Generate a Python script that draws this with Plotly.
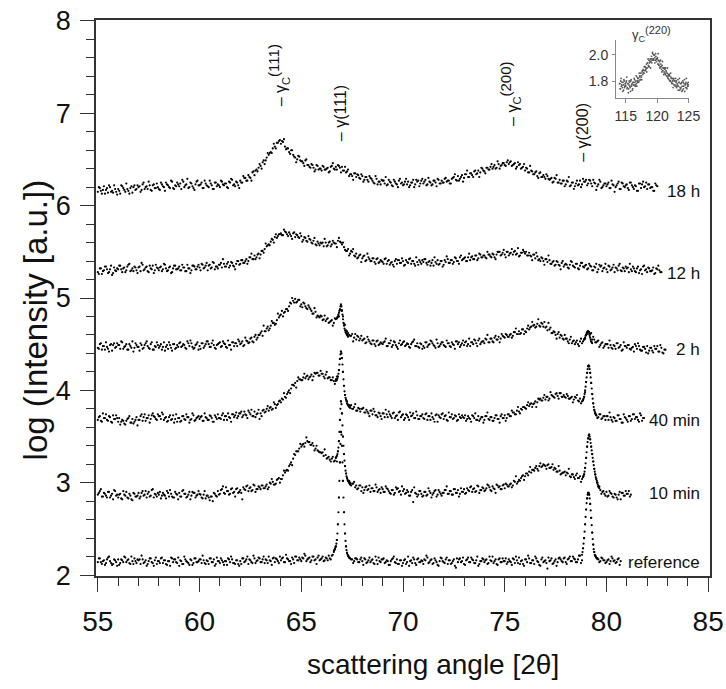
import plotly.graph_objects as go

# ---------------- data: log intensity every 0.1 deg (scan "a" from 55.00, scan "b" from 55.05) ----------------
STEP = 0.1
FINE = 0.025
START_A = 55.0
START_B = 55.05

h18_a = [
    6.15, 6.19, 6.13, 6.21, 6.17, 6.14, 6.20, 6.16, 6.22, 6.15,
    6.18, 6.13, 6.21, 6.17, 6.24, 6.16, 6.19, 6.14, 6.22, 6.18,
    6.20, 6.15, 6.23, 6.18, 6.21, 6.26, 6.17, 6.22, 6.19, 6.24,
    6.18, 6.25, 6.21, 6.16, 6.23, 6.20, 6.27, 6.19, 6.22, 6.25,
    6.21, 6.18, 6.26, 6.22, 6.29, 6.20, 6.24, 6.19, 6.23, 6.27,
    6.22, 6.25, 6.19, 6.24, 6.21, 6.27, 6.22, 6.18, 6.25, 6.23,
    6.20, 6.26, 6.22, 6.24, 6.19, 6.25, 6.28, 6.23, 6.26, 6.22,
    6.27, 6.25, 6.30, 6.27, 6.33, 6.30, 6.36, 6.33, 6.39, 6.41,
    6.43, 6.47, 6.45, 6.52, 6.55, 6.58, 6.62, 6.64, 6.68, 6.70,
    6.67, 6.69, 6.64, 6.62, 6.58, 6.60, 6.55, 6.52, 6.50, 6.53,
    6.48, 6.46, 6.49, 6.44, 6.42, 6.45, 6.41, 6.39, 6.43, 6.40,
    6.38, 6.42, 6.39, 6.41, 6.37, 6.43, 6.40, 6.42, 6.44, 6.41,
    6.42, 6.38, 6.36, 6.39, 6.34, 6.32, 6.35, 6.31, 6.33, 6.29,
    6.32, 6.28, 6.31, 6.26, 6.30, 6.27, 6.24, 6.29, 6.26, 6.23,
    6.27, 6.24, 6.22, 6.28, 6.25, 6.21, 6.26, 6.23, 6.27, 6.24,
    6.22, 6.26, 6.23, 6.20, 6.25, 6.28, 6.23, 6.26, 6.21, 6.27,
    6.24, 6.28, 6.23, 6.26, 6.22, 6.27, 6.25, 6.29, 6.24, 6.27,
    6.25, 6.30, 6.27, 6.24, 6.29, 6.31, 6.28, 6.32, 6.29, 6.33,
    6.30, 6.34, 6.31, 6.35, 6.33, 6.37, 6.34, 6.38, 6.36, 6.40,
    6.37, 6.41, 6.39, 6.42, 6.40, 6.44, 6.41, 6.45, 6.43, 6.46,
    6.44, 6.47, 6.45, 6.48, 6.44, 6.46, 6.42, 6.44, 6.40, 6.42,
    6.38, 6.40, 6.36, 6.38, 6.34, 6.36, 6.32, 6.35, 6.31, 6.33,
    6.29, 6.32, 6.28, 6.30, 6.26, 6.29, 6.25, 6.28, 6.24, 6.27,
    6.23, 6.26, 6.21, 6.25, 6.18, 6.24, 6.22, 6.27, 6.23, 6.26,
    6.28, 6.24, 6.27, 6.21, 6.25, 6.17, 6.23, 6.26, 6.20, 6.24,
    6.21, 6.25, 6.19, 6.23, 6.15, 6.22, 6.26, 6.18, 6.24, 6.20,
    6.23, 6.17, 6.25, 6.20, 6.22, 6.16, 6.24, 6.19, 6.26, 6.21,
    6.18, 6.23, 6.20, 6.16, 6.24, 6.21,
]
h18_b = [
    6.20, 6.16, 6.17, 6.13, 6.19, 6.22, 6.15, 6.14, 6.18, 6.12,
    6.16, 6.22, 6.19, 6.15, 6.18, 6.13, 6.21, 6.20, 6.17, 6.22,
    6.21, 6.17, 6.25, 6.20, 6.18, 6.22, 6.16, 6.23, 6.19, 6.20,
    6.17, 6.23, 6.20, 6.25, 6.22, 6.19, 6.26, 6.18, 6.21, 6.23,
    6.24, 6.28, 6.20, 6.23, 6.19, 6.25, 6.21, 6.17, 6.26, 6.22,
    6.23, 6.19, 6.27, 6.22, 6.20, 6.24, 6.18, 6.25, 6.21, 6.22,
    6.27, 6.23, 6.24, 6.20, 6.26, 6.29, 6.22, 6.21, 6.25, 6.19,
    6.25, 6.32, 6.30, 6.27, 6.31, 6.27, 6.37, 6.38, 6.37, 6.45,
    6.40, 6.49, 6.49, 6.57, 6.57, 6.57, 6.67, 6.62, 6.68, 6.71,
    6.70, 6.72, 6.61, 6.62, 6.56, 6.60, 6.53, 6.47, 6.54, 6.49,
    6.48, 6.43, 6.50, 6.44, 6.41, 6.44, 6.37, 6.44, 6.39, 6.40,
    6.43, 6.39, 6.40, 6.36, 6.42, 6.46, 6.39, 6.39, 6.43, 6.36,
    6.38, 6.42, 6.37, 6.32, 6.34, 6.28, 6.35, 6.34, 6.30, 6.34,
    6.26, 6.31, 6.28, 6.32, 6.29, 6.25, 6.32, 6.23, 6.26, 6.28,
    6.27, 6.31, 6.23, 6.26, 6.22, 6.28, 6.24, 6.20, 6.29, 6.25,
    6.23, 6.29, 6.26, 6.22, 6.25, 6.20, 6.28, 6.27, 6.24, 6.29,
    6.26, 6.22, 6.30, 6.25, 6.23, 6.27, 6.21, 6.28, 6.24, 6.25,
    6.29, 6.26, 6.27, 6.24, 6.30, 6.34, 6.27, 6.27, 6.31, 6.26,
    6.34, 6.38, 6.31, 6.35, 6.31, 6.38, 6.35, 6.31, 6.41, 6.38,
    6.35, 6.41, 6.39, 6.45, 6.42, 6.40, 6.48, 6.40, 6.44, 6.46,
    6.43, 6.49, 6.47, 6.43, 6.45, 6.40, 6.47, 6.45, 6.41, 6.45,
    6.41, 6.36, 6.43, 6.37, 6.34, 6.37, 6.30, 6.36, 6.31, 6.31,
    6.34, 6.29, 6.29, 6.25, 6.30, 6.33, 6.25, 6.24, 6.27, 6.21,
    6.27, 6.31, 6.22, 6.25, 6.21, 6.27, 6.23, 6.20, 6.29, 6.26,
    6.22, 6.28, 6.24, 6.28, 6.24, 6.21, 6.28, 6.19, 6.22, 6.24,
    6.23, 6.19, 6.27, 6.22, 6.20, 6.24, 6.18, 6.25, 6.21, 6.22,
    6.19, 6.25, 6.22, 6.18, 6.21, 6.16, 6.24, 6.23, 6.20, 6.25,
    6.23, 6.19, 6.20, 6.16, 6.22,
]

h12_a = [
    5.28, 5.32, 5.26, 5.30, 5.34, 5.27, 5.31, 5.25, 5.33, 5.29,
    5.31, 5.35, 5.28, 5.33, 5.30, 5.36, 5.29, 5.32, 5.34, 5.30,
    5.33, 5.29, 5.36, 5.31, 5.34, 5.28, 5.32, 5.35, 5.30, 5.33,
    5.30, 5.34, 5.31, 5.36, 5.29, 5.33, 5.27, 5.32, 5.35, 5.31,
    5.34, 5.30, 5.33, 5.29, 5.36, 5.32, 5.30, 5.35, 5.31, 5.34,
    5.33, 5.37, 5.32, 5.35, 5.30, 5.36, 5.33, 5.38, 5.34, 5.32,
    5.36, 5.33, 5.37, 5.34, 5.39, 5.35, 5.38, 5.34, 5.37, 5.40,
    5.37, 5.41, 5.38, 5.42, 5.40, 5.44, 5.42, 5.46, 5.44, 5.48,
    5.47, 5.51, 5.53, 5.56, 5.58, 5.61, 5.63, 5.66, 5.65, 5.69,
    5.70, 5.68, 5.72, 5.69, 5.71, 5.67, 5.70, 5.66, 5.68, 5.65,
    5.67, 5.63, 5.65, 5.61, 5.64, 5.60, 5.62, 5.58, 5.61, 5.57,
    5.59, 5.56, 5.60, 5.57, 5.61, 5.58, 5.60, 5.59, 5.62, 5.61,
    5.58, 5.55, 5.51, 5.53, 5.48, 5.50, 5.46, 5.48, 5.44, 5.47,
    5.43, 5.46, 5.41, 5.44, 5.40, 5.43, 5.39, 5.42, 5.38, 5.41,
    5.39, 5.42, 5.37, 5.41, 5.38, 5.36, 5.40, 5.37, 5.41, 5.38,
    5.40, 5.36, 5.39, 5.42, 5.37, 5.40, 5.35, 5.39, 5.41, 5.37,
    5.39, 5.42, 5.36, 5.40, 5.38, 5.35, 5.39, 5.41, 5.37, 5.40,
    5.36, 5.39, 5.42, 5.38, 5.41, 5.39, 5.43, 5.40, 5.44, 5.41,
    5.43, 5.40, 5.44, 5.41, 5.45, 5.42, 5.46, 5.43, 5.47, 5.44,
    5.46, 5.43, 5.47, 5.45, 5.48, 5.44, 5.47, 5.50, 5.46, 5.49,
    5.47, 5.50, 5.46, 5.49, 5.47, 5.51, 5.48, 5.45, 5.49, 5.52,
    5.48, 5.46, 5.49, 5.45, 5.47, 5.43, 5.45, 5.42, 5.44, 5.40,
    5.42, 5.39, 5.41, 5.37, 5.40, 5.36, 5.39, 5.35, 5.38, 5.34,
    5.37, 5.33, 5.36, 5.39, 5.34, 5.37, 5.32, 5.35, 5.38, 5.33,
    5.36, 5.32, 5.35, 5.30, 5.34, 5.37, 5.31, 5.34, 5.29, 5.33,
    5.31, 5.35, 5.30, 5.33, 5.28, 5.32, 5.35, 5.30, 5.33, 5.29,
    5.32, 5.28, 5.31, 5.34, 5.29, 5.32, 5.27, 5.31, 5.34, 5.30,
    5.28, 5.32, 5.29, 5.33, 5.27, 5.31, 5.30, 5.28,
]
h12_b = [
    5.26, 5.32, 5.29, 5.34, 5.31, 5.28, 5.35, 5.27, 5.30, 5.32,
    5.35, 5.31, 5.32, 5.28, 5.34, 5.37, 5.30, 5.29, 5.33, 5.27,
    5.34, 5.38, 5.30, 5.33, 5.29, 5.35, 5.31, 5.27, 5.36, 5.32,
    5.33, 5.29, 5.37, 5.32, 5.30, 5.34, 5.28, 5.35, 5.31, 5.32,
    5.30, 5.36, 5.33, 5.29, 5.32, 5.27, 5.35, 5.34, 5.31, 5.36,
    5.30, 5.36, 5.33, 5.38, 5.35, 5.32, 5.39, 5.31, 5.34, 5.36,
    5.38, 5.42, 5.34, 5.37, 5.33, 5.39, 5.35, 5.31, 5.40, 5.36,
    5.41, 5.38, 5.40, 5.37, 5.44, 5.48, 5.42, 5.42, 5.47, 5.43,
    5.51, 5.49, 5.59, 5.57, 5.57, 5.64, 5.60, 5.69, 5.67, 5.69,
    5.68, 5.74, 5.71, 5.67, 5.69, 5.64, 5.71, 5.69, 5.66, 5.70,
    5.61, 5.66, 5.62, 5.67, 5.63, 5.59, 5.65, 5.57, 5.59, 5.60,
    5.60, 5.64, 5.56, 5.60, 5.56, 5.62, 5.59, 5.55, 5.65, 5.60,
    5.60, 5.52, 5.51, 5.46, 5.51, 5.53, 5.45, 5.43, 5.46, 5.39,
    5.45, 5.40, 5.48, 5.42, 5.40, 5.43, 5.37, 5.43, 5.39, 5.40,
    5.37, 5.43, 5.40, 5.36, 5.39, 5.34, 5.42, 5.41, 5.38, 5.43,
    5.35, 5.41, 5.38, 5.43, 5.40, 5.37, 5.44, 5.36, 5.39, 5.41,
    5.42, 5.38, 5.39, 5.35, 5.41, 5.44, 5.37, 5.36, 5.40, 5.34,
    5.41, 5.45, 5.38, 5.41, 5.37, 5.44, 5.40, 5.37, 5.46, 5.42,
    5.44, 5.40, 5.48, 5.44, 5.42, 5.46, 5.41, 5.48, 5.44, 5.46,
    5.44, 5.50, 5.47, 5.44, 5.47, 5.42, 5.50, 5.50, 5.47, 5.52,
    5.44, 5.50, 5.48, 5.53, 5.50, 5.47, 5.54, 5.46, 5.49, 5.50,
    5.50, 5.46, 5.46, 5.41, 5.47, 5.49, 5.41, 5.40, 5.43, 5.36,
    5.42, 5.46, 5.37, 5.39, 5.35, 5.40, 5.36, 5.31, 5.40, 5.36,
    5.36, 5.32, 5.40, 5.35, 5.33, 5.37, 5.31, 5.38, 5.34, 5.35,
    5.31, 5.37, 5.34, 5.30, 5.33, 5.28, 5.36, 5.35, 5.32, 5.37,
    5.28, 5.34, 5.31, 5.36, 5.33, 5.30, 5.37, 5.29, 5.32, 5.34,
    5.33, 5.37, 5.29, 5.32, 5.28, 5.34, 5.30, 5.26, 5.35, 5.31,
    5.33, 5.29, 5.30, 5.26, 5.32, 5.35, 5.28,
]

h2_a = [
    4.46, 4.50, 4.44, 4.48, 4.52, 4.45, 4.49, 4.43, 4.51, 4.47,
    4.49, 4.45, 4.52, 4.47, 4.50, 4.44, 4.48, 4.53, 4.46, 4.49,
    4.47, 4.51, 4.45, 4.49, 4.53, 4.46, 4.50, 4.44, 4.48, 4.52,
    4.46, 4.50, 4.47, 4.43, 4.49, 4.52, 4.46, 4.50, 4.45, 4.49,
    4.51, 4.47, 4.50, 4.46, 4.53, 4.48, 4.51, 4.45, 4.49, 4.52,
    4.48, 4.51, 4.46, 4.50, 4.53, 4.47, 4.51, 4.49, 4.45, 4.50,
    4.52, 4.48, 4.51, 4.47, 4.54, 4.49, 4.52, 4.48, 4.51, 4.55,
    4.50, 4.53, 4.49, 4.54, 4.51, 4.56, 4.53, 4.58, 4.55, 4.60,
    4.62, 4.59, 4.64, 4.67, 4.65, 4.70, 4.73, 4.71, 4.76, 4.79,
    4.82, 4.80, 4.85, 4.88, 4.91, 4.94, 4.97, 4.99, 4.96, 4.98,
    4.93, 4.95, 4.91, 4.88, 4.90, 4.86, 4.83, 4.85, 4.81, 4.79,
    4.80, 4.77, 4.75, 4.78, 4.74, 4.76, 4.73, 4.77, 4.80, 4.87,
    4.86, 4.72, 4.65, 4.62, 4.59, 4.61, 4.57, 4.55, 4.58, 4.56,
    4.54, 4.56, 4.52, 4.55, 4.51, 4.54, 4.50, 4.53, 4.49, 4.52,
    4.50, 4.53, 4.48, 4.51, 4.54, 4.49, 4.52, 4.47, 4.51, 4.49,
    4.52, 4.48, 4.51, 4.47, 4.50, 4.53, 4.48, 4.51, 4.46, 4.50,
    4.48, 4.52, 4.47, 4.50, 4.53, 4.49, 4.46, 4.51, 4.48, 4.52,
    4.49, 4.47, 4.51, 4.48, 4.52, 4.49, 4.53, 4.50, 4.47, 4.51,
    4.49, 4.53, 4.50, 4.48, 4.52, 4.55, 4.51, 4.54, 4.50, 4.53,
    4.51, 4.55, 4.52, 4.56, 4.53, 4.57, 4.55, 4.58, 4.56, 4.59,
    4.57, 4.60, 4.58, 4.61, 4.59, 4.63, 4.61, 4.64, 4.62, 4.66,
    4.64, 4.67, 4.66, 4.69, 4.70, 4.68, 4.72, 4.70, 4.73, 4.69,
    4.68, 4.65, 4.66, 4.62, 4.64, 4.60, 4.61, 4.57, 4.59, 4.55,
    4.56, 4.53, 4.55, 4.51, 4.54, 4.52, 4.50, 4.53, 4.51, 4.55,
    4.60, 4.64, 4.61, 4.55, 4.55, 4.52, 4.54, 4.49, 4.52, 4.48,
    4.50, 4.46, 4.49, 4.45, 4.48, 4.51, 4.46, 4.49, 4.44, 4.48,
    4.46, 4.49, 4.44, 4.47, 4.50, 4.45, 4.48, 4.43, 4.47, 4.45,
    4.48, 4.43, 4.46, 4.41, 4.45, 4.48, 4.42, 4.46, 4.40, 4.44,
]
h2_b = [
    4.45, 4.51, 4.48, 4.44, 4.47, 4.42, 4.50, 4.49, 4.46, 4.51,
    4.49, 4.53, 4.45, 4.48, 4.44, 4.50, 4.46, 4.42, 4.51, 4.47,
    4.43, 4.49, 4.46, 4.51, 4.48, 4.45, 4.52, 4.44, 4.47, 4.49,
    4.48, 4.44, 4.52, 4.47, 4.45, 4.49, 4.43, 4.50, 4.46, 4.47,
    4.52, 4.48, 4.49, 4.45, 4.51, 4.54, 4.47, 4.46, 4.50, 4.44,
    4.45, 4.51, 4.48, 4.53, 4.50, 4.47, 4.54, 4.46, 4.49, 4.51,
    4.47, 4.53, 4.50, 4.46, 4.49, 4.44, 4.52, 4.51, 4.48, 4.53,
    4.51, 4.48, 4.57, 4.53, 4.52, 4.57, 4.52, 4.60, 4.57, 4.60,
    4.64, 4.70, 4.64, 4.69, 4.67, 4.75, 4.73, 4.72, 4.83, 4.81,
    4.86, 4.84, 4.88, 4.86, 4.95, 5.00, 4.95, 4.95, 4.98, 4.91,
    4.90, 4.94, 4.89, 4.92, 4.88, 4.83, 4.89, 4.79, 4.80, 4.81,
    4.76, 4.81, 4.77, 4.73, 4.75, 4.70, 4.78, 4.78, 4.80, 4.91,
    4.80, 4.71, 4.64, 4.60, 4.59, 4.53, 4.61, 4.59, 4.54, 4.59,
    4.55, 4.51, 4.58, 4.53, 4.50, 4.54, 4.48, 4.54, 4.50, 4.51,
    4.52, 4.56, 4.48, 4.51, 4.47, 4.53, 4.49, 4.45, 4.54, 4.50,
    4.53, 4.49, 4.50, 4.46, 4.52, 4.55, 4.48, 4.47, 4.51, 4.45,
    4.46, 4.52, 4.49, 4.54, 4.51, 4.48, 4.55, 4.47, 4.50, 4.52,
    4.48, 4.54, 4.51, 4.47, 4.50, 4.45, 4.53, 4.52, 4.49, 4.54,
    4.52, 4.48, 4.56, 4.52, 4.50, 4.54, 4.48, 4.56, 4.52, 4.53,
    4.56, 4.60, 4.52, 4.56, 4.52, 4.59, 4.55, 4.52, 4.61, 4.58,
    4.61, 4.58, 4.60, 4.57, 4.63, 4.67, 4.61, 4.61, 4.66, 4.61,
    4.63, 4.70, 4.68, 4.74, 4.71, 4.69, 4.77, 4.69, 4.72, 4.74,
    4.69, 4.73, 4.68, 4.62, 4.63, 4.56, 4.63, 4.60, 4.56, 4.60,
    4.56, 4.51, 4.58, 4.53, 4.50, 4.54, 4.48, 4.56, 4.53, 4.56,
    4.61, 4.63, 4.62, 4.58, 4.52, 4.53, 4.47, 4.51, 4.46, 4.50,
    4.50, 4.54, 4.46, 4.49, 4.45, 4.51, 4.47, 4.43, 4.52, 4.48,
    4.49, 4.45, 4.46, 4.42, 4.48, 4.51, 4.44, 4.43, 4.47, 4.41,
    4.40, 4.46, 4.43, 4.48, 4.45, 4.42, 4.49, 4.41, 4.44,
]

m40_a = [
    3.68, 3.72, 3.66, 3.70, 3.74, 3.67, 3.71, 3.65, 3.69, 3.73,
    3.66, 3.63, 3.68, 3.64, 3.67, 3.70, 3.65, 3.69, 3.66, 3.71,
    3.68, 3.72, 3.67, 3.74, 3.70, 3.73, 3.69, 3.75, 3.71, 3.68,
    3.72, 3.69, 3.74, 3.70, 3.66, 3.71, 3.68, 3.73, 3.69, 3.66,
    3.70, 3.67, 3.72, 3.68, 3.71, 3.65, 3.69, 3.73, 3.68, 3.71,
    3.69, 3.72, 3.67, 3.71, 3.68, 3.73, 3.70, 3.66, 3.71, 3.74,
    3.70, 3.73, 3.68, 3.72, 3.75, 3.70, 3.74, 3.71, 3.76, 3.72,
    3.75, 3.71, 3.77, 3.73, 3.78, 3.74, 3.72, 3.77, 3.74, 3.79,
    3.75, 3.78, 3.76, 3.80, 3.78, 3.82, 3.80, 3.85, 3.84, 3.88,
    3.87, 3.90, 3.93, 3.96, 4.00, 4.02, 4.06, 4.08, 4.10, 4.12,
    4.11, 4.14, 4.13, 4.16, 4.14, 4.17, 4.15, 4.18, 4.19, 4.16,
    4.18, 4.15, 4.17, 4.13, 4.14, 4.11, 4.10, 4.12, 4.15, 4.34,
    4.35, 4.05, 3.90, 3.84, 3.82, 3.80, 3.82, 3.78, 3.81, 3.77,
    3.80, 3.76, 3.79, 3.75, 3.78, 3.74, 3.77, 3.73, 3.76, 3.72,
    3.75, 3.71, 3.74, 3.77, 3.72, 3.75, 3.70, 3.73, 3.76, 3.71,
    3.74, 3.70, 3.73, 3.68, 3.72, 3.75, 3.70, 3.73, 3.69, 3.72,
    3.70, 3.74, 3.68, 3.72, 3.75, 3.69, 3.73, 3.66, 3.71, 3.74,
    3.69, 3.73, 3.67, 3.71, 3.74, 3.70, 3.72, 3.68, 3.71, 3.73,
    3.70, 3.67, 3.72, 3.69, 3.73, 3.70, 3.68, 3.72, 3.69, 3.71,
    3.68, 3.72, 3.69, 3.71, 3.67, 3.70, 3.73, 3.69, 3.72, 3.70,
    3.73, 3.70, 3.74, 3.72, 3.76, 3.74, 3.78, 3.77, 3.80, 3.82,
    3.81, 3.84, 3.83, 3.86, 3.85, 3.88, 3.87, 3.90, 3.89, 3.92,
    3.90, 3.93, 3.91, 3.95, 3.93, 3.96, 3.94, 3.97, 3.93, 3.95,
    3.92, 3.94, 3.91, 3.93, 3.90, 3.92, 3.89, 3.91, 3.88, 3.93,
    4.09, 4.26, 4.19, 3.96, 3.79, 3.73, 3.71, 3.74, 3.70, 3.72,
    3.72, 3.68, 3.71, 3.66, 3.70, 3.67, 3.73, 3.69, 3.65, 3.71,
    3.68, 3.72, 3.67, 3.74, 3.69, 3.71, 3.66, 3.73, 3.70,
]
m40_b = [
    3.71, 3.67, 3.75, 3.70, 3.68, 3.72, 3.66, 3.73, 3.69, 3.70,
    3.70, 3.66, 3.67, 3.63, 3.69, 3.72, 3.65, 3.64, 3.68, 3.62,
    3.68, 3.74, 3.71, 3.67, 3.70, 3.65, 3.73, 3.72, 3.69, 3.74,
    3.72, 3.76, 3.68, 3.71, 3.67, 3.73, 3.69, 3.65, 3.74, 3.70,
    3.66, 3.72, 3.69, 3.74, 3.71, 3.68, 3.75, 3.67, 3.70, 3.72,
    3.71, 3.67, 3.75, 3.70, 3.68, 3.72, 3.66, 3.73, 3.69, 3.70,
    3.69, 3.75, 3.72, 3.68, 3.71, 3.66, 3.74, 3.73, 3.70, 3.75,
    3.77, 3.73, 3.74, 3.70, 3.76, 3.79, 3.72, 3.71, 3.75, 3.69,
    3.72, 3.79, 3.77, 3.83, 3.81, 3.79, 3.87, 3.81, 3.85, 3.89,
    3.91, 3.97, 3.92, 3.98, 3.97, 4.06, 4.05, 4.03, 4.14, 4.12,
    4.11, 4.18, 4.15, 4.12, 4.15, 4.11, 4.19, 4.19, 4.16, 4.21,
    4.18, 4.13, 4.20, 4.14, 4.11, 4.14, 4.07, 4.15, 4.22, 4.42,
    4.20, 3.95, 3.88, 3.84, 3.84, 3.80, 3.85, 3.78, 3.80, 3.80,
    3.81, 3.76, 3.77, 3.72, 3.78, 3.80, 3.73, 3.71, 3.75, 3.69,
    3.75, 3.79, 3.71, 3.74, 3.70, 3.76, 3.72, 3.68, 3.77, 3.73,
    3.68, 3.74, 3.71, 3.76, 3.73, 3.70, 3.77, 3.69, 3.72, 3.74,
    3.69, 3.75, 3.72, 3.68, 3.71, 3.66, 3.74, 3.73, 3.70, 3.75,
    3.72, 3.68, 3.76, 3.71, 3.69, 3.73, 3.67, 3.74, 3.70, 3.71,
    3.73, 3.69, 3.70, 3.66, 3.72, 3.75, 3.68, 3.67, 3.71, 3.65,
    3.72, 3.76, 3.68, 3.71, 3.67, 3.73, 3.69, 3.65, 3.74, 3.70,
    3.67, 3.74, 3.72, 3.78, 3.76, 3.74, 3.82, 3.75, 3.79, 3.82,
    3.80, 3.87, 3.85, 3.82, 3.86, 3.82, 3.91, 3.91, 3.89, 3.95,
    3.93, 3.89, 3.98, 3.94, 3.92, 3.97, 3.91, 3.97, 3.93, 3.93,
    3.96, 3.91, 3.92, 3.87, 3.93, 3.95, 3.88, 3.86, 3.90, 3.98,
    4.19, 4.26, 4.08, 3.86, 3.75, 3.70, 3.74, 3.69, 3.72, 3.68,
    3.72, 3.76, 3.68, 3.71, 3.67, 3.73, 3.69, 3.65, 3.74, 3.70,
    3.66, 3.72, 3.69, 3.74, 3.71, 3.68, 3.75, 3.67, 3.70,
]

m10_a = [
    2.87, 2.91, 2.85, 2.89, 2.86, 2.90, 2.84, 2.88, 2.92, 2.86,
    2.84, 2.88, 2.82, 2.87, 2.90, 2.83, 2.86, 2.81, 2.88, 2.85,
    2.89, 2.85, 2.91, 2.87, 2.84, 2.90, 2.86, 2.93, 2.88, 2.85,
    2.87, 2.83, 2.89, 2.86, 2.91, 2.85, 2.88, 2.84, 2.90, 2.87,
    2.89, 2.85, 2.92, 2.88, 2.85, 2.90, 2.86, 2.89, 2.84, 2.87,
    2.88, 2.84, 2.87, 2.83, 2.86, 2.81, 2.85, 2.89, 2.86, 2.91,
    2.88, 2.93, 2.89, 2.95, 2.91, 2.88, 2.94, 2.90, 2.93, 2.89,
    2.92, 2.82, 2.93, 2.96, 2.91, 2.95, 2.92, 2.97, 2.93, 2.96,
    2.93, 2.97, 2.94, 2.98, 2.95, 2.99, 3.01, 2.98, 3.03, 3.05,
    3.04, 3.08, 3.11, 3.14, 3.18, 3.22, 3.26, 3.30, 3.34, 3.37,
    3.39, 3.42, 3.43, 3.45, 3.44, 3.41, 3.40, 3.37, 3.35, 3.33,
    3.32, 3.29, 3.30, 3.27, 3.25, 3.26, 3.23, 3.27, 3.34, 3.68,
    3.75, 3.31, 3.10, 3.02, 3.00, 2.99, 3.01, 2.97, 2.94, 2.97,
    2.95, 2.92, 2.96, 2.93, 2.90, 2.94, 2.91, 2.95, 2.92, 2.89,
    2.93, 2.90, 2.94, 2.91, 2.88, 2.92, 2.89, 2.93, 2.90, 2.87,
    2.91, 2.88, 2.92, 2.86, 2.90, 2.79, 2.89, 2.85, 2.91, 2.88,
    2.86, 2.90, 2.87, 2.91, 2.84, 2.89, 2.92, 2.87, 2.90, 2.86,
    2.89, 2.92, 2.88, 2.91, 2.87, 2.93, 2.89, 2.92, 2.88, 2.90,
    2.93, 2.89, 2.92, 2.95, 2.90, 2.94, 2.91, 2.96, 2.92, 2.95,
    2.91, 2.94, 2.97, 2.92, 2.96, 2.93, 2.98, 2.95, 2.93, 2.97,
    2.94, 2.98, 2.96, 2.99, 2.97, 3.01, 2.99, 3.03, 3.05, 3.08,
    3.07, 3.10, 3.12, 3.11, 3.14, 3.16, 3.15, 3.18, 3.17, 3.20,
    3.18, 3.19, 3.16, 3.17, 3.14, 3.15, 3.12, 3.13, 3.10, 3.11,
    3.08, 3.10, 3.07, 3.09, 3.06, 3.08, 3.05, 3.07, 3.04, 3.09,
    3.27, 3.48, 3.47, 3.31, 3.15, 3.04, 2.96, 2.92, 2.90, 2.88,
    2.90, 2.86, 2.89, 2.85, 2.88, 2.84, 2.87, 2.82, 2.89, 2.86,
    2.88, 2.91, 2.87,
]
m10_b = [
    2.89, 2.93, 2.85, 2.88, 2.84, 2.90, 2.86, 2.82, 2.91, 2.87,
    2.87, 2.83, 2.91, 2.86, 2.84, 2.88, 2.82, 2.89, 2.85, 2.86,
    2.83, 2.89, 2.86, 2.91, 2.88, 2.85, 2.92, 2.84, 2.87, 2.89,
    2.90, 2.86, 2.87, 2.83, 2.89, 2.92, 2.85, 2.84, 2.88, 2.82,
    2.85, 2.91, 2.88, 2.84, 2.87, 2.82, 2.90, 2.89, 2.86, 2.91,
    2.87, 2.83, 2.91, 2.86, 2.84, 2.85, 2.80, 2.88, 2.85, 2.87,
    2.92, 2.96, 2.88, 2.91, 2.87, 2.93, 2.89, 2.85, 2.94, 2.90,
    2.89, 2.95, 2.92, 2.97, 2.94, 2.91, 2.98, 2.90, 2.93, 2.95,
    2.97, 2.94, 2.96, 2.93, 3.00, 3.04, 2.98, 2.99, 3.04, 3.00,
    3.04, 3.13, 3.13, 3.13, 3.20, 3.19, 3.31, 3.34, 3.34, 3.42,
    3.41, 3.39, 3.49, 3.44, 3.41, 3.43, 3.35, 3.40, 3.34, 3.33,
    3.33, 3.36, 3.26, 3.28, 3.23, 3.28, 3.24, 3.23, 3.45, 3.88,
    3.50, 3.18, 3.05, 3.02, 2.97, 2.99, 2.95, 2.93, 2.97, 2.91,
    2.89, 2.95, 2.92, 2.97, 2.94, 2.91, 2.98, 2.90, 2.93, 2.95,
    2.90, 2.96, 2.93, 2.89, 2.92, 2.87, 2.95, 2.94, 2.91, 2.96,
    2.93, 2.89, 2.90, 2.86, 2.92, 2.95, 2.88, 2.87, 2.91, 2.85,
    2.90, 2.86, 2.94, 2.89, 2.87, 2.91, 2.85, 2.92, 2.88, 2.89,
    2.92, 2.96, 2.88, 2.91, 2.87, 2.93, 2.89, 2.85, 2.94, 2.90,
    2.88, 2.94, 2.91, 2.96, 2.93, 2.90, 2.97, 2.89, 2.92, 2.94,
    2.92, 2.98, 2.95, 2.91, 2.94, 2.89, 2.97, 2.96, 2.93, 2.98,
    2.99, 2.96, 2.98, 2.95, 3.02, 3.07, 3.01, 3.02, 3.07, 3.03,
    3.10, 3.08, 3.17, 3.14, 3.13, 3.18, 3.13, 3.21, 3.18, 3.19,
    3.15, 3.20, 3.16, 3.20, 3.16, 3.12, 3.18, 3.09, 3.11, 3.12,
    3.11, 3.15, 3.06, 3.09, 3.04, 3.10, 3.05, 3.01, 3.07, 3.16,
    3.39, 3.52, 3.39, 3.23, 3.09, 3.00, 2.96, 2.88, 2.91, 2.86,
    2.85, 2.91, 2.88, 2.84, 2.87, 2.82, 2.90, 2.89, 2.86, 2.91,
    2.88, 2.85,
]

ref_a = [
    2.14, 2.18, 2.12, 2.16, 2.13, 2.19, 2.15, 2.11, 2.17, 2.14,
    2.17, 2.13, 2.16, 2.20, 2.14, 2.17, 2.12, 2.15, 2.18, 2.13,
    2.16, 2.12, 2.17, 2.14, 2.10, 2.15, 2.18, 2.13, 2.16, 2.12,
    2.15, 2.18, 2.13, 2.16, 2.11, 2.15, 2.19, 2.14, 2.17, 2.13,
    2.10, 2.15, 2.12, 2.17, 2.14, 2.11, 2.16, 2.13, 2.18, 2.14,
    2.17, 2.13, 2.16, 2.12, 2.15, 2.18, 2.14, 2.17, 2.12, 2.15,
    2.13, 2.16, 2.11, 2.15, 2.18, 2.14, 2.17, 2.13, 2.16, 2.12,
    2.15, 2.18, 2.14, 2.17, 2.12, 2.16, 2.13, 2.18, 2.15, 2.19,
    2.14, 2.17, 2.13, 2.16, 2.20, 2.15, 2.18, 2.14, 2.17, 2.13,
    2.16, 2.19, 2.14, 2.18, 2.15, 2.12, 2.17, 2.20, 2.16, 2.19,
    2.15, 2.18, 2.21, 2.17, 2.19, 2.16, 2.20, 2.17, 2.19, 2.16,
    2.18, 2.15, 2.19, 2.16, 2.18, 2.21, 2.26, 2.31, 2.55, 3.22,
    3.40, 2.68, 2.31, 2.21, 2.18, 2.17, 2.15, 2.18, 2.14, 2.17,
    2.15, 2.18, 2.13, 2.16, 2.14, 2.17, 2.12, 2.16, 2.19, 2.14,
    2.17, 2.13, 2.16, 2.11, 2.15, 2.18, 2.14, 2.17, 2.12, 2.16,
    2.13, 2.17, 2.14, 2.10, 2.16, 2.19, 2.13, 2.17, 2.14, 2.16,
    2.12, 2.16, 2.19, 2.14, 2.17, 2.13, 2.16, 2.11, 2.15, 2.18,
    2.14, 2.17, 2.12, 2.16, 2.13, 2.17, 2.08, 2.14, 2.18, 2.15,
    2.12, 2.16, 2.19, 2.14, 2.17, 2.13, 2.16, 2.10, 2.15, 2.18,
    2.14, 2.17, 2.13, 2.16, 2.20, 2.15, 2.12, 2.17, 2.14, 2.18,
    2.15, 2.12, 2.17, 2.14, 2.18, 2.13, 2.16, 2.19, 2.15, 2.12,
    2.17, 2.14, 2.18, 2.13, 2.16, 2.20, 2.15, 2.11, 2.17, 2.14,
    2.16, 2.07, 2.15, 2.18, 2.13, 2.17, 2.14, 2.19, 2.15, 2.18,
    2.14, 2.17, 2.20, 2.15, 2.18, 2.14, 2.17, 2.21, 2.16, 2.40,
    2.71, 2.89, 2.77, 2.46, 2.25, 2.19, 2.17, 2.15, 2.18, 2.16,
    2.14, 2.17, 2.15, 2.18, 2.16, 2.14, 2.18, 2.15,
]
ref_b = [
    2.18, 2.14, 2.15, 2.11, 2.17, 2.20, 2.13, 2.12, 2.16, 2.10,
    2.11, 2.17, 2.14, 2.19, 2.16, 2.13, 2.20, 2.12, 2.15, 2.17,
    2.17, 2.21, 2.13, 2.16, 2.12, 2.18, 2.14, 2.10, 2.19, 2.15,
    2.13, 2.19, 2.16, 2.12, 2.15, 2.10, 2.18, 2.17, 2.14, 2.19,
    2.16, 2.12, 2.20, 2.15, 2.13, 2.17, 2.11, 2.18, 2.14, 2.15,
    2.17, 2.21, 2.13, 2.16, 2.12, 2.18, 2.14, 2.10, 2.19, 2.15,
    2.18, 2.14, 2.15, 2.11, 2.17, 2.20, 2.13, 2.12, 2.16, 2.10,
    2.12, 2.18, 2.15, 2.20, 2.17, 2.14, 2.21, 2.13, 2.16, 2.18,
    2.14, 2.20, 2.17, 2.13, 2.16, 2.11, 2.19, 2.18, 2.15, 2.20,
    2.18, 2.14, 2.22, 2.17, 2.15, 2.19, 2.13, 2.20, 2.16, 2.17,
    2.19, 2.23, 2.15, 2.18, 2.14, 2.20, 2.16, 2.12, 2.21, 2.17,
    2.20, 2.16, 2.18, 2.21, 2.17, 2.22, 2.28, 2.38, 2.84, 3.55,
    3.02, 2.45, 2.24, 2.19, 2.17, 2.13, 2.18, 2.17, 2.14, 2.19,
    2.11, 2.17, 2.14, 2.19, 2.16, 2.13, 2.20, 2.12, 2.15, 2.17,
    2.18, 2.14, 2.15, 2.11, 2.17, 2.20, 2.13, 2.12, 2.16, 2.10,
    2.16, 2.12, 2.20, 2.15, 2.13, 2.17, 2.11, 2.18, 2.14, 2.15,
    2.17, 2.21, 2.13, 2.16, 2.12, 2.18, 2.14, 2.10, 2.19, 2.15,
    2.13, 2.19, 2.16, 2.12, 2.15, 2.10, 2.18, 2.17, 2.14, 2.19,
    2.11, 2.17, 2.14, 2.19, 2.16, 2.13, 2.20, 2.12, 2.15, 2.17,
    2.16, 2.12, 2.20, 2.15, 2.13, 2.17, 2.11, 2.18, 2.14, 2.15,
    2.18, 2.14, 2.15, 2.11, 2.17, 2.20, 2.13, 2.12, 2.16, 2.10,
    2.17, 2.21, 2.13, 2.16, 2.12, 2.18, 2.14, 2.10, 2.19, 2.15,
    2.13, 2.19, 2.16, 2.12, 2.15, 2.10, 2.18, 2.17, 2.14, 2.19,
    2.12, 2.18, 2.15, 2.20, 2.17, 2.14, 2.21, 2.13, 2.29, 2.55,
    2.83, 2.87, 2.62, 2.33, 2.21, 2.18, 2.14, 2.19, 2.16, 2.13,
    2.16, 2.12, 2.20, 2.15, 2.13, 2.17, 2.11,
]

# finer-sampled stretches across the sharp gamma(111) / gamma(200) peaks (0.025 deg steps)
h2_p111_start, h2_p111 = 66.75, [4.78, 4.79, 4.80, 4.82, 4.84, 4.86, 4.88, 4.91, 4.93, 4.91, 4.87, 4.82,
                                 4.77, 4.73, 4.70, 4.67, 4.65, 4.63, 4.62, 4.61, 4.60, 4.59, 4.58]
h2_p200_start, h2_p200 = 78.90, [4.55, 4.56, 4.57, 4.59, 4.60, 4.62, 4.63, 4.64, 4.64, 4.63, 4.61, 4.59,
                                 4.57, 4.55, 4.53, 4.52, 4.51]
m40_p111_start, m40_p111 = 66.70, [4.10, 4.12, 4.11, 4.13, 4.15, 4.18, 4.22, 4.28, 4.34, 4.39, 4.42, 4.40,
                                   4.35, 4.28, 4.20, 4.12, 4.05, 3.99, 3.95, 3.92, 3.90, 3.88, 3.86, 3.85,
                                   3.84, 3.83, 3.82, 3.83, 3.81]
m40_p200_start, m40_p200 = 78.85, [3.89, 3.91, 3.93, 3.96, 4.00, 4.04, 4.09, 4.14, 4.19, 4.23, 4.26, 4.27,
                                   4.26, 4.23, 4.19, 4.14, 4.08, 4.02, 3.96, 3.91, 3.86, 3.82, 3.79, 3.77,
                                   3.75, 3.74, 3.73]
m10_p111_start, m10_p111 = 66.70, [3.27, 3.28, 3.29, 3.31, 3.34, 3.38, 3.45, 3.55, 3.68, 3.80, 3.88, 3.85,
                                   3.75, 3.62, 3.50, 3.40, 3.31, 3.24, 3.18, 3.13, 3.10, 3.07, 3.05, 3.03,
                                   3.02, 3.01, 3.00, 2.99, 2.98]
m10_p200_start, m10_p200 = 78.85, [3.06, 3.07, 3.09, 3.12, 3.16, 3.21, 3.27, 3.33, 3.39, 3.44, 3.48, 3.51,
                                   3.52, 3.50, 3.47, 3.43, 3.39, 3.35, 3.31, 3.27, 3.23, 3.19, 3.15, 3.12,
                                   3.09, 3.06, 3.04, 3.02, 3.00, 2.98, 2.96, 2.95, 2.94]
ref_p111_start, ref_p111 = 66.60, [2.25, 2.27, 2.28, 2.30, 2.31, 2.34, 2.38, 2.45, 2.55, 2.68, 2.84, 3.02,
                                   3.22, 3.42, 3.55, 3.52, 3.40, 3.22, 3.02, 2.84, 2.68, 2.55, 2.45, 2.37,
                                   2.31, 2.27, 2.24, 2.22, 2.21, 2.20, 2.19]
ref_p200_start, ref_p200 = 78.80, [2.22, 2.25, 2.29, 2.34, 2.40, 2.47, 2.55, 2.63, 2.71, 2.78, 2.83, 2.87,
                                   2.89, 2.89, 2.87, 2.83, 2.77, 2.70, 2.62, 2.54, 2.46, 2.39, 2.33, 2.28,
                                   2.25, 2.22, 2.21, 2.20, 2.19, 2.18, 2.18]

# inset: gamma_C(220) reflection, 0.1 deg steps (scan a from 114.00, scan b from 114.05)
inset_start_a, inset_start_b = 114.0, 114.05
inset_a = [
    1.78, 1.74, 1.80, 1.76, 1.79, 1.72, 1.77, 1.81, 1.75, 1.78,
    1.76, 1.80, 1.74, 1.78, 1.71, 1.77, 1.79, 1.75, 1.80, 1.76,
    1.78, 1.74, 1.79, 1.77, 1.81, 1.76, 1.80, 1.78, 1.83, 1.79,
    1.82, 1.80, 1.84, 1.81, 1.86, 1.83, 1.87, 1.85, 1.89, 1.86,
    1.88, 1.91, 1.89, 1.93, 1.90, 1.94, 1.92, 1.96, 1.94, 1.97,
    1.95, 1.99, 1.96, 2.01, 1.97, 2.00, 1.98, 1.96, 1.99, 1.95,
    1.97, 1.93, 1.96, 1.92, 1.95, 1.91, 1.93, 1.89, 1.92, 1.88,
    1.90, 1.87, 1.89, 1.85, 1.88, 1.84, 1.86, 1.83, 1.85, 1.81,
    1.84, 1.80, 1.83, 1.79, 1.82, 1.78, 1.81, 1.77, 1.80, 1.76,
    1.79, 1.75, 1.78, 1.81, 1.76, 1.79, 1.73, 1.78, 1.75, 1.79,
    1.76, 1.80, 1.74, 1.78, 1.72, 1.77, 1.79, 1.75, 1.78, 1.76,
    1.77,
]
inset_b = [
    1.78, 1.74, 1.82, 1.77, 1.75, 1.79, 1.73, 1.80, 1.76, 1.77,
    1.79, 1.83, 1.75, 1.78, 1.74, 1.80, 1.76, 1.72, 1.81, 1.77,
    1.73, 1.79, 1.77, 1.82, 1.79, 1.77, 1.84, 1.76, 1.80, 1.82,
    1.79, 1.86, 1.83, 1.81, 1.84, 1.81, 1.88, 1.88, 1.86, 1.91,
    1.91, 1.88, 1.90, 1.87, 1.94, 1.97, 1.91, 1.91, 1.95, 1.90,
    1.97, 1.94, 2.02, 1.97, 1.96, 2.00, 1.94, 2.01, 1.97, 1.97,
    1.98, 2.01, 1.93, 1.95, 1.90, 1.96, 1.91, 1.87, 1.95, 1.90,
    1.85, 1.90, 1.86, 1.90, 1.87, 1.84, 1.90, 1.82, 1.84, 1.85,
    1.80, 1.86, 1.82, 1.78, 1.80, 1.75, 1.82, 1.80, 1.77, 1.82,
    1.80, 1.76, 1.77, 1.73, 1.79, 1.82, 1.75, 1.74, 1.78, 1.72,
    1.73, 1.79, 1.76, 1.81, 1.78, 1.75, 1.82, 1.74, 1.77, 1.79,
]

series_labels = ["18 h", "12 h", "2 h", "40 min", "10 min", "reference"]
label_levels = [6.15, 5.27, 4.44, 3.67, 2.88, 2.14]
SUP = "<sup><span style='font-size:15px'>{}</span></sup>"
peak_names = ["– γ<sub>C</sub>" + SUP.format("(111)"), "– γ(111)",
              "– γ<sub>C</sub>" + SUP.format("(200)"), "– γ(200)"]
peak_pos = [63.9, 66.9, 75.26, 78.85]
peak_lab_y = [7.41, 7.00, 7.21, 6.79]
x_ticks = [55, 60, 65, 70, 75, 80, 85]
y_ticks = [2, 3, 4, 5, 6, 7, 8]


def grid(start, n, step):
    return [round(start + i * step, 4) for i in range(n)]


FONT = "Liberation Sans, Arial, sans-serif"

fig = go.Figure()

groups = [
    (h18_a, h18_b, []),
    (h12_a, h12_b, []),
    (h2_a, h2_b, [(h2_p111_start, h2_p111), (h2_p200_start, h2_p200)]),
    (m40_a, m40_b, [(m40_p111_start, m40_p111), (m40_p200_start, m40_p200)]),
    (m10_a, m10_b, [(m10_p111_start, m10_p111), (m10_p200_start, m10_p200)]),
    (ref_a, ref_b, [(ref_p111_start, ref_p111), (ref_p200_start, ref_p200)]),
]
for va, vb, fines in groups:
    xs = grid(START_A, len(va), STEP) + grid(START_B, len(vb), STEP)
    ys = list(va) + list(vb)
    for s, fv in fines:
        xs += grid(s, len(fv), FINE)
        ys += fv
    fig.add_trace(go.Scatter(x=xs, y=ys, mode="markers",
                             marker=dict(size=2.2, color="#000000", line=dict(width=0)),
                             showlegend=False, hoverinfo="skip"))

fig.add_trace(go.Scatter(x=grid(inset_start_a, len(inset_a), STEP) + grid(inset_start_b, len(inset_b), STEP),
                         y=inset_a + inset_b, mode="markers",
                         marker=dict(size=1.8, color="#555555", line=dict(width=0)),
                         xaxis="x2", yaxis="y2", showlegend=False, hoverinfo="skip"))

annotations = []
for txt, yy in zip(series_labels, label_levels):
    annotations.append(dict(x=84.72, y=yy, xref="x", yref="y", text=txt, showarrow=False,
                            xanchor="right", yanchor="middle",
                            font=dict(family=FONT, size=17, color="#111111")))
for txt, xx, yy in zip(peak_names, peak_pos, peak_lab_y):
    annotations.append(dict(x=xx, y=yy, xref="x", yref="y", text=txt, showarrow=False,
                            textangle=-90, xanchor="center", yanchor="middle",
                            font=dict(family=FONT, size=16, color="#111111")))
annotations.append(dict(x=0.549, y=-0.16, xref="paper", yref="paper",
                        text="scattering angle [2θ]", showarrow=False,
                        xanchor="center", yanchor="middle",
                        font=dict(family=FONT, size=28, color="#111111")))
annotations.append(dict(x=-0.099, y=0.46, xref="paper", yref="paper",
                        text="log (Intensity [a.u.])", showarrow=False, textangle=-90,
                        xanchor="center", yanchor="middle",
                        font=dict(family=FONT, size=33, color="#111111")))
annotations.append(dict(x=0.9055, y=0.975, xref="paper", yref="paper",
                        text="γ<sub>C</sub><sup><span style='font-size:11px'>(220)</span></sup>",
                        showarrow=False, xanchor="center", yanchor="middle",
                        font=dict(family=FONT, size=13, color="#333333")))

fig.update_layout(
    width=726, height=689,
    margin=dict(l=96, r=16, t=20, b=113, autoexpand=False),
    paper_bgcolor="white", plot_bgcolor="white",
    annotations=annotations,
    xaxis=dict(range=[54.91, 85.09], showgrid=False, zeroline=False, automargin=False,
               showline=True, mirror=True, linecolor="#333333", linewidth=1.5,
               ticks="outside", ticklen=14, tickwidth=1.2, tickcolor="#333333",
               tickvals=x_ticks, ticklabelstandoff=6,
               tickfont=dict(family=FONT, size=28, color="#111111"),
               minor=dict(dtick=1, tick0=55, ticks="outside", ticklen=8, tickwidth=1.2,
                          tickcolor="#333333", showgrid=False)),
    yaxis=dict(range=[1.99, 8.01], showgrid=False, zeroline=False, automargin=False,
               showline=True, mirror=True, linecolor="#333333", linewidth=1.5,
               ticks="outside", ticklen=14, tickwidth=1.2, tickcolor="#333333",
               tickvals=y_ticks, ticklabelstandoff=4,
               tickfont=dict(family=FONT, size=27, color="#111111"),
               minor=dict(dtick=0.2, tick0=2, ticks="outside", ticklen=8, tickwidth=1.2,
                          tickcolor="#333333", showgrid=False)),
    xaxis2=dict(domain=[0.847, 0.966], anchor="y2", range=[113.45, 125.1], automargin=False,
                showgrid=False, zeroline=False, showline=True, mirror=False,
                linecolor="#888888", linewidth=1, ticks="outside", ticklen=4,
                tickcolor="#888888", tickvals=[115, 120, 125], ticklabelstandoff=2,
                tickfont=dict(family=FONT, size=14, color="#333333")),
    yaxis2=dict(domain=[0.8603, 0.964], anchor="x2", range=[1.672, 2.115], automargin=False,
                showgrid=False, zeroline=False, showline=True, mirror=False,
                linecolor="#888888", linewidth=1, ticks="outside", ticklen=3,
                tickcolor="#888888", tickvals=[1.8, 2.0], ticktext=["1.8", "2.0"],
                ticklabelstandoff=1,
                tickfont=dict(family=FONT, size=14, color="#333333")),
)

fig.write_html("out.html")
